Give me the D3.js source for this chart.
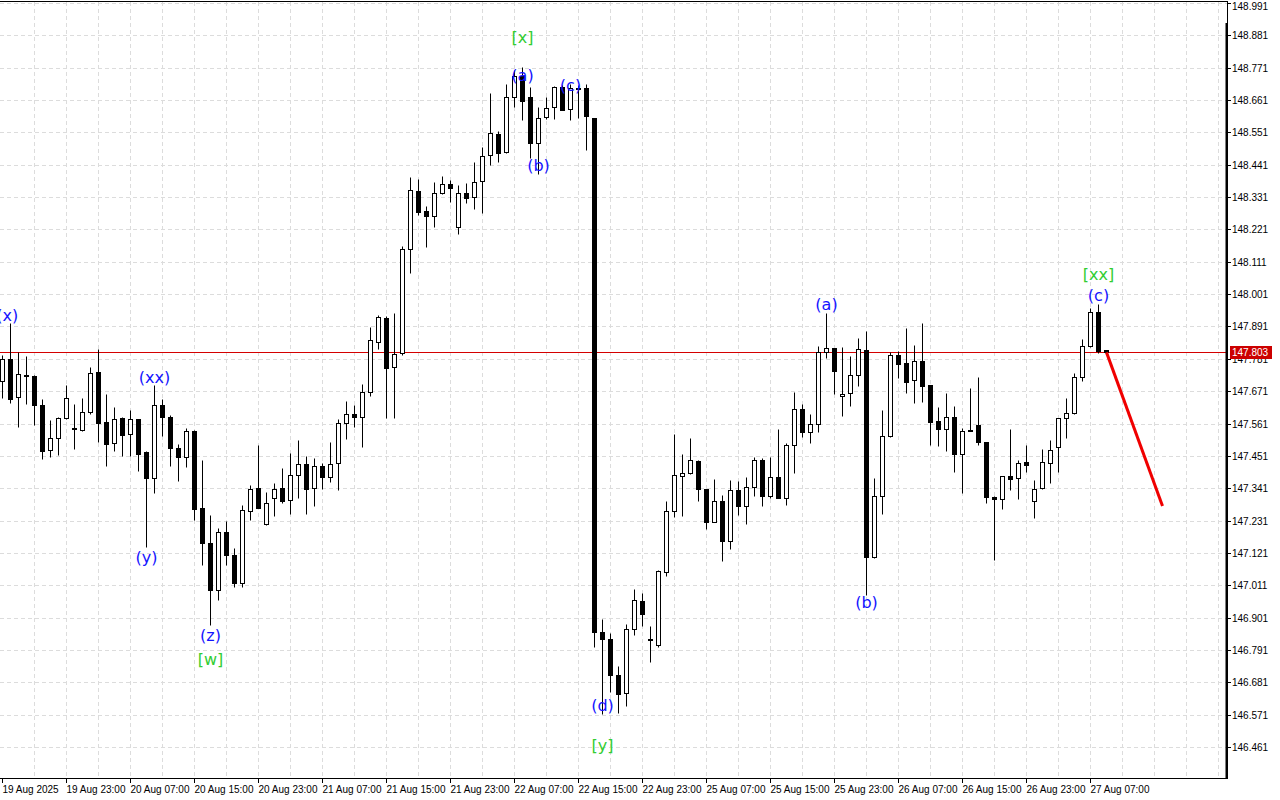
<!DOCTYPE html>
<html><head><meta charset="utf-8">
<script src="https://cdn.jsdelivr.net/npm/d3@7"></script>
<style>body{margin:0;background:#fff}svg{display:block}</style>
</head><body>
<svg id="c" width="1280" height="800"></svg>
<script>
// ---- data (USDJPY H1, 19 Aug 15:00 .. 27 Aug 09:00) ----
const open = [147.707,147.779,147.650,147.726,147.723,147.623,147.471,147.511,147.579,147.545,
147.538,147.599,147.736,147.566,147.494,147.579,147.524,147.576,147.463,147.375,
147.623,147.583,147.478,147.446,147.536,147.274,147.154,146.995,147.192,147.114,
147.019,147.265,147.341,147.218,147.307,147.341,147.302,147.385,147.423,147.341,
147.417,147.380,147.426,147.562,147.593,147.584,147.667,147.837,147.920,147.752,
147.800,148.153,148.352,148.284,148.268,148.344,148.375,148.228,148.344,148.330,
148.385,148.473,148.545,148.483,148.672,148.743,148.670,148.514,148.602,148.636,
148.704,148.629,148.700,148.701,148.599,146.852,146.828,146.706,146.645,146.864,
146.958,146.830,146.807,147.057,147.264,147.384,147.392,147.434,147.338,147.227,
147.298,147.163,147.335,147.282,147.344,147.437,147.316,147.378,147.307,147.488,
147.609,147.531,147.558,147.803,147.817,147.654,147.664,147.725,147.811,147.106,
147.314,147.519,147.793,147.766,147.709,147.773,147.691,147.569,147.543,147.583,
147.459,147.540,147.555,147.497,147.313,147.303,147.384,147.375,147.429,147.298,
147.341,147.426,147.480,147.579,147.596,147.718,147.826,147.939,147.811];
const high = [147.794,147.902,147.805,147.791,147.726,147.645,147.573,147.584,147.692,147.627,
147.647,147.754,147.813,147.661,147.616,147.584,147.607,147.578,147.469,147.691,
147.644,147.589,147.491,147.545,147.538,147.437,147.250,147.206,147.230,147.138,
147.284,147.352,147.488,147.329,147.360,147.409,147.460,147.505,147.451,147.445,
147.426,147.498,147.577,147.638,147.624,147.695,147.890,147.930,147.928,147.937,
148.164,148.398,148.391,148.301,148.381,148.403,148.389,148.372,148.378,148.449,
148.500,148.684,148.557,148.715,148.763,148.774,148.704,148.638,148.670,148.709,
148.712,148.715,148.712,148.715,148.601,146.895,146.849,146.737,146.878,147.000,
146.986,146.873,147.063,147.298,147.524,147.457,147.513,147.436,147.340,147.372,
147.318,147.369,147.367,147.380,147.448,147.443,147.448,147.542,147.496,147.669,
147.627,147.593,147.825,147.936,147.819,147.822,147.791,147.851,147.876,147.375,
147.607,147.804,147.809,147.885,147.828,147.902,147.693,147.616,147.664,147.621,
147.545,147.681,147.718,147.499,147.315,147.384,147.541,147.438,147.488,147.369,
147.474,147.505,147.579,147.647,147.732,147.848,147.953,147.966,147.812];
const low = [147.648,147.632,147.548,147.627,147.555,147.441,147.448,147.454,147.577,147.475,
147.535,147.593,147.499,147.418,147.469,147.452,147.452,147.401,147.140,147.324,
147.520,147.418,147.367,147.412,147.233,147.080,146.876,146.961,147.080,147.005,
147.005,147.233,147.275,147.216,147.248,147.292,147.252,147.309,147.252,147.282,
147.339,147.363,147.336,147.507,147.550,147.480,147.656,147.815,147.579,147.581,
147.793,148.074,148.270,148.162,148.230,148.340,148.315,148.204,148.312,148.289,
148.278,148.439,148.451,148.480,148.638,148.593,148.463,148.408,148.595,148.596,
148.627,148.593,148.600,148.490,146.800,146.575,146.648,146.578,146.601,146.842,
146.873,146.751,146.800,147.043,147.244,147.247,147.390,147.299,147.202,147.225,
147.095,147.133,147.250,147.219,147.316,147.282,147.307,147.307,147.284,147.394,
147.514,147.496,147.533,147.785,147.660,147.588,147.622,147.690,146.978,147.104,
147.252,147.514,147.717,147.666,147.632,147.635,147.488,147.485,147.469,147.397,
147.324,147.537,147.488,147.290,147.096,147.269,147.334,147.303,147.395,147.241,
147.339,147.358,147.397,147.511,147.594,147.706,147.822,147.802,147.802];
const close = [147.779,147.645,147.729,147.721,147.623,147.469,147.512,147.579,147.647,147.541,
147.599,147.732,147.564,147.492,147.576,147.521,147.576,147.458,147.375,147.623,
147.582,147.477,147.446,147.535,147.271,147.154,146.995,147.191,147.114,147.019,
147.267,147.337,147.275,147.290,147.337,147.299,147.386,147.423,147.339,147.417,
147.380,147.423,147.562,147.592,147.584,147.667,147.844,147.922,147.751,147.796,
148.154,148.354,148.281,148.268,148.344,148.374,148.363,148.344,148.329,148.381,
148.470,148.548,148.482,148.670,148.743,148.659,148.514,148.599,148.633,148.704,
148.627,148.701,148.701,148.605,146.852,146.828,146.706,146.641,146.864,146.962,
146.913,146.826,147.061,147.264,147.386,147.392,147.437,147.337,147.227,147.298,
147.163,147.335,147.282,147.344,147.437,147.316,147.378,147.307,147.488,147.609,
147.533,147.558,147.805,147.817,147.741,147.660,147.725,147.813,147.106,147.314,
147.519,147.793,147.762,147.703,147.773,147.690,147.567,147.543,147.583,147.458,
147.537,147.537,147.497,147.312,147.303,147.384,147.374,147.426,147.419,147.337,
147.429,147.470,147.579,147.596,147.718,147.826,147.939,147.808,147.803];

const priceTicks = [148.991,148.881,148.771,148.661,148.551,148.441,148.331,148.221,148.111,148.001,
147.891,147.781,147.671,147.561,147.451,147.341,147.231,147.121,147.011,146.901,146.791,146.681,146.571,146.461];
const timeTickLabels = ["19 Aug 2025","19 Aug 23:00","20 Aug 07:00","20 Aug 15:00","20 Aug 23:00",
"21 Aug 07:00","21 Aug 15:00","21 Aug 23:00","22 Aug 07:00","22 Aug 15:00","22 Aug 23:00",
"25 Aug 07:00","25 Aug 15:00","25 Aug 23:00","26 Aug 07:00","26 Aug 15:00","26 Aug 23:00","27 Aug 07:00"];
const timeTickBars = [0,8,16,24,32,40,48,56,64,72,80,88,96,104,112,120,128,136];
const currentPrice = 147.803;

const waveText  = ["(x)","(xx)","(y)","(z)","[w]","[x]","(a)","(b)","(c)","(d)","[y]","(a)","(b)","[xx]","(c)"];
const waveBar   = [0.6,19,18,26,26,65,65,67,71,75,75,103,108,137,137];
const wavePrice = [147.927,147.719,147.107,146.839,146.760,148.875,148.743,148.440,148.709,146.604,146.468,147.967,146.954,148.069,147.995];
const waveLevel = ["minor","minor","minor","minor","major","major","minor","minor","minor","minor","major","minor","minor","major","minor"];

const forecastBars = [138,145];
const forecastPrices = [147.803,147.281];

// ---- layout ----
const svg = d3.select('#c');
const R = 1227, B = 778;
const x = d3.scaleLinear().domain([0,138]).range([2,1106]);
const y = d3.scaleLinear().domain([146.356,149.001]).range([778,0]);
const py = v => Math.round(y(v)) + 0.5;
const px = i => Math.round(x(i)) + 0.5;

svg.append('rect').attr('width',1280).attr('height',800).attr('fill','#fff');

// grid
const grid = svg.append('g').attr('stroke','#dcdcdc').attr('stroke-dasharray','4,3').attr('stroke-width',1);
priceTicks.forEach(p => grid.append('line').attr('x1',0).attr('x2',R).attr('y1',py(p)).attr('y2',py(p)));
d3.range(4,153,4).forEach(i => grid.append('line').attr('x1',px(i)).attr('x2',px(i)).attr('y1',2).attr('y2',B));

// current price line
svg.append('line').attr('x1',0).attr('x2',R).attr('y1',py(currentPrice)).attr('y2',py(currentPrice))
  .attr('stroke','#d40000').attr('stroke-width',1);

// candles
const cg = svg.append('g');
open.forEach((o,i) => {
  const c = close[i], cx = px(i);
  cg.append('line').attr('x1',cx).attr('x2',cx).attr('y1',py(high[i])).attr('y2',py(low[i]))
    .attr('stroke','#000').attr('stroke-width',1);
  const yo = py(o), yc = py(c);
  const top = Math.min(yo,yc), h = Math.abs(yo-yc);
  cg.append('rect').attr('x',cx-2).attr('y',top).attr('width',4).attr('height',Math.max(h,0.01))
    .attr('fill', c >= o ? '#fff' : '#000').attr('stroke','#000').attr('stroke-width',1);
});

// forecast line
svg.append('line').attr('x1',x(forecastBars[0])+0.5).attr('y1',y(forecastPrices[0]))
  .attr('x2',x(forecastBars[1])+0.5).attr('y2',y(forecastPrices[1]))
  .attr('stroke','#f00000').attr('stroke-width',3);

// wave labels
waveText.forEach((t,k) => {
  svg.append('text').attr('x',x(waveBar[k])+0.5).attr('y',y(wavePrice[k]))
    .attr('text-anchor','middle').attr('dominant-baseline','central')
    .attr('font-family','DejaVu Sans, sans-serif').attr('font-size',16)
    .attr('fill', waveLevel[k]==='major' ? '#32cd32' : '#1414ff').text(t);
});

// frame
svg.append('line').attr('x1',0).attr('x2',R+1).attr('y1',1.5).attr('y2',1.5).attr('stroke','#000');
svg.append('line').attr('x1',0).attr('x2',R+1).attr('y1',B+0.5).attr('y2',B+0.5).attr('stroke','#000');
svg.append('line').attr('x1',R+0.5).attr('x2',R+0.5).attr('y1',1).attr('y2',B+1).attr('stroke','#000');
svg.append('line').attr('x1',R-0.5).attr('x2',R-0.5).attr('y1',23).attr('y2',B+1).attr('stroke','#000').attr('stroke-width',2);

// price axis
const ay = svg.append('g').attr('font-family','Liberation Sans, Arial, sans-serif').attr('font-size',10);
priceTicks.forEach(p => {
  ay.append('line').attr('x1',R).attr('x2',R+4).attr('y1',py(p)).attr('y2',py(p)).attr('stroke','#000');
  ay.append('text').attr('x',R+5).attr('y',Math.max(py(p),6)).attr('dominant-baseline','central').attr('fill','#000')
    .text(p.toFixed(3));
});
// current price tag
svg.append('rect').attr('x',R+3).attr('y',py(currentPrice)-6.5).attr('width',42).attr('height',13).attr('fill','#cc0000');
svg.append('text').attr('x',R+5).attr('y',py(currentPrice)).attr('dominant-baseline','central')
  .attr('font-family','Liberation Sans, Arial, sans-serif').attr('font-size',10).attr('fill','#fff').text(currentPrice.toFixed(3));

// time axis
const ax = svg.append('g').attr('font-family','Liberation Sans, Arial, sans-serif').attr('font-size',10);
timeTickBars.forEach((b,k) => {
  const xx = px(b);
  ax.append('line').attr('x1',xx).attr('x2',xx).attr('y1',B).attr('y2',B+5).attr('stroke','#000');
  ax.append('text').attr('x',xx).attr('y',B+15).attr('fill','#000').text(timeTickLabels[k]);
});
</script>
</body></html>
